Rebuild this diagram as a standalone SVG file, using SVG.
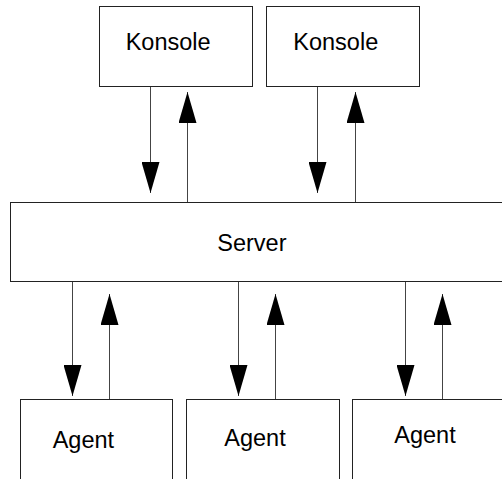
<svg xmlns="http://www.w3.org/2000/svg" width="502" height="479" viewBox="0 0 502 479">
<style>
.box{fill:#fff;stroke:#222;stroke-width:1}
.lbl{font-family:"Liberation Sans",Arial,sans-serif;font-size:23.5px;fill:#000}
.con{stroke:#444;stroke-width:1;fill:none;marker-end:url(#ah)}
</style>
<defs>
<marker id="ah" markerUnits="userSpaceOnUse" markerWidth="32" markerHeight="18" refX="31" refY="9" orient="auto">
<path d="M0,0 L31,9 L0,18 z" fill="#000"/>
</marker>
</defs>
<rect width="502" height="479" fill="#fff"/>
<g id="konsole1"><rect class="box" x="99.5" y="6.5" width="153" height="80"/><text class="lbl" x="125.7" y="50">Konsole</text></g>
<g id="konsole2"><rect class="box" x="266.5" y="6.5" width="153" height="80"/><text class="lbl" x="293.3" y="50">Konsole</text></g>
<g id="server"><rect class="box" x="10.5" y="202.5" width="500" height="79"/><text class="lbl" x="217.3" y="251">Server</text></g>
<g id="agent1"><rect class="box" x="20.5" y="399.5" width="152" height="90"/><text class="lbl" x="52.7" y="447.7">Agent</text></g>
<g id="agent2"><rect class="box" x="186.5" y="399.5" width="153" height="90"/><text class="lbl" x="224.3" y="445.7">Agent</text></g>
<g id="agent3"><rect class="box" x="352.5" y="399.5" width="160" height="90"/><text class="lbl" x="394.3" y="443.3">Agent</text></g>
<g id="connectors">
<line class="con" x1="150.5" y1="87" x2="150.5" y2="193"/>
<line class="con" x1="187.5" y1="202" x2="187.5" y2="92"/>
<line class="con" x1="317.5" y1="87" x2="317.5" y2="193"/>
<line class="con" x1="355.5" y1="202" x2="355.5" y2="92"/>
<line class="con" x1="72.5" y1="282" x2="72.5" y2="396"/>
<line class="con" x1="109.5" y1="399" x2="109.5" y2="294"/>
<line class="con" x1="238.5" y1="282" x2="238.5" y2="396"/>
<line class="con" x1="275.5" y1="399" x2="275.5" y2="294"/>
<line class="con" x1="405.5" y1="282" x2="405.5" y2="396"/>
<line class="con" x1="442.5" y1="399" x2="442.5" y2="294"/>
</g>
</svg>
